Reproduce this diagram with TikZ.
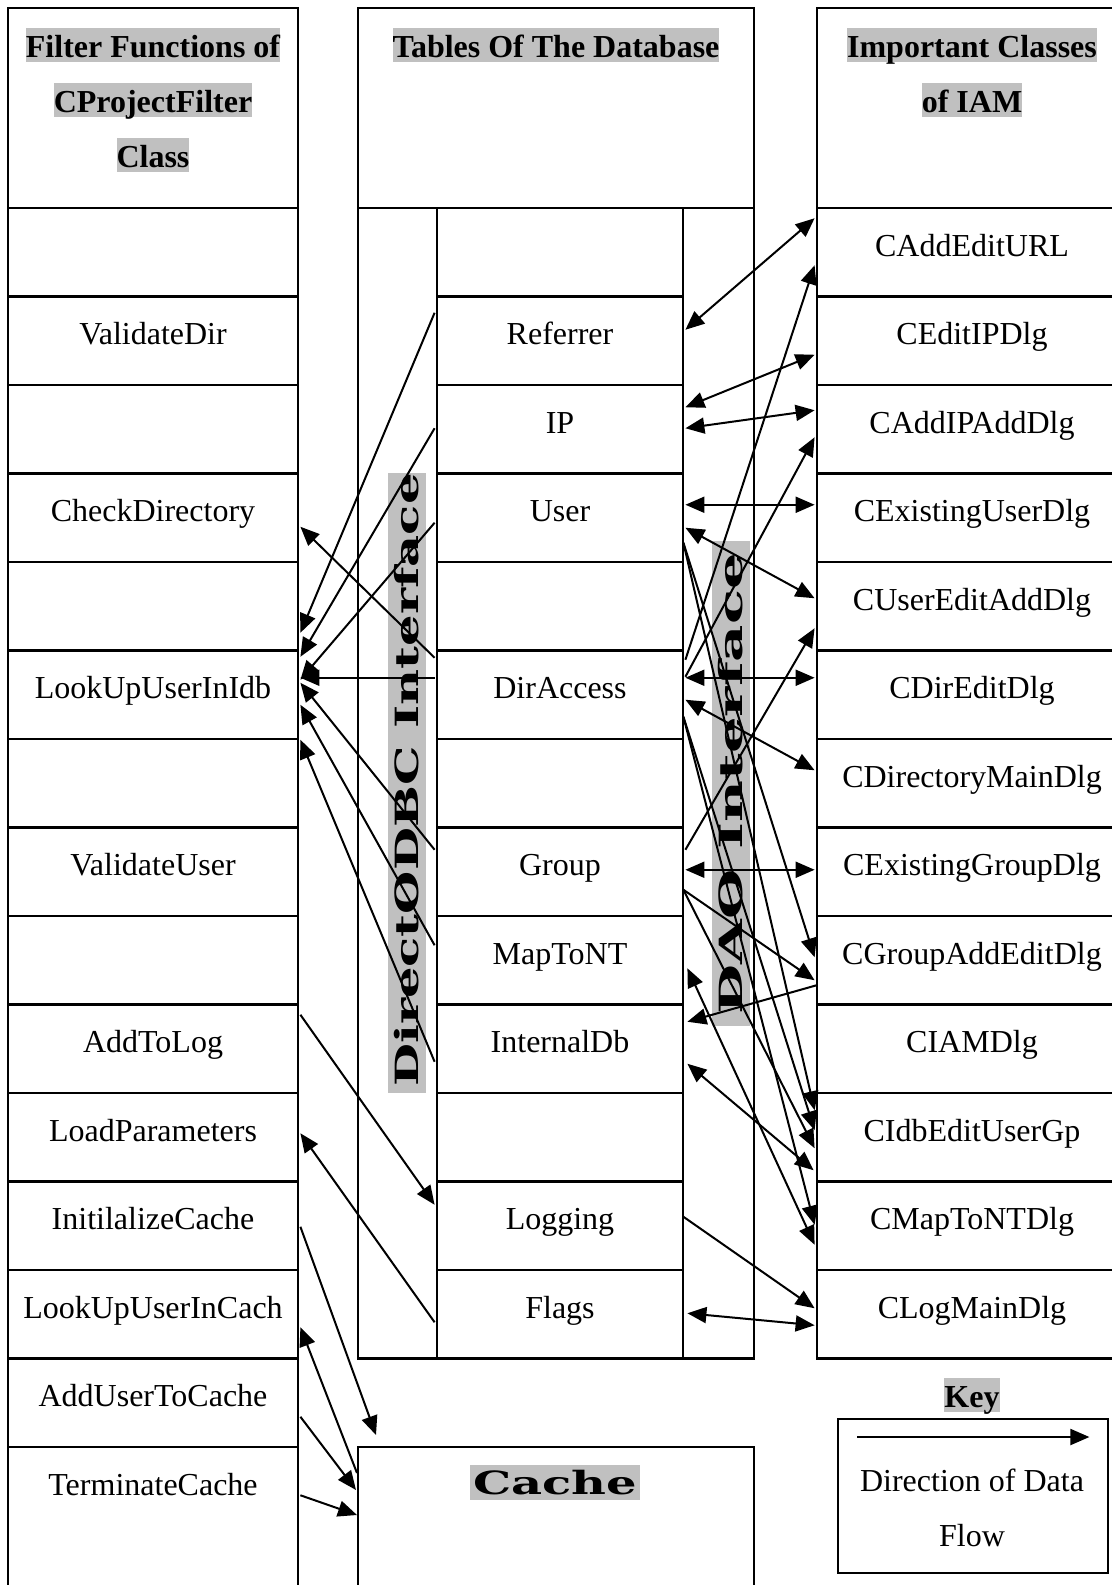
\documentclass[tikz,border=0pt]{standalone}
\usepackage{fontspec}
\setmainfont{Liberation Serif}
\newfontfamily\heavyfont{DejaVu Serif}
\usetikzlibrary{arrows.meta,calc}
\definecolor{hl}{RGB}{192,192,192}

\begin{document}
\begin{tikzpicture}[x=0.5pt,y=-0.5pt,
  frame/.style={line width=1.4pt},
  cellbase/.style={rectangle,inner sep=0pt,minimum height=44.25pt,
    text height=11.9pt,text depth=8.1pt,font=\fontsize{16}{19}\selectfont},
  cellL/.style={cellbase,minimum width=145pt},
  cellM/.style={cellbase,minimum width=123pt},
  cellR/.style={cellbase,minimum width=155pt},
  hdr/.style={fill=hl,inner sep=0pt,text height=14.5pt,text depth=2.5pt,
    anchor=base,font=\bfseries\fontsize{16}{19}\selectfont},
  plain/.style={inner sep=0pt,anchor=base,font=\fontsize{16}{19}\selectfont},
  heavy/.style={inner sep=0pt,font=\heavyfont\bfseries\fontsize{16}{16}\selectfont},
  tip/.tip={Triangle[length=9.5pt,width=8pt]},
  arr/.style={line width=1pt,-tip},
  darr/.style={line width=1pt,tip-tip}]

\useasboundingbox (0,0) rectangle (1112,1585);
\clip (0,0) rectangle (1112,1585);
\fill[white] (0,0) rectangle (1112,1585);

% ---- column frames and rows ----
\draw[frame] (8,8) rectangle (298,1650);
\foreach \k in {0,...,14} \draw[frame] (8,{208+88.5*\k}) -- (298,{208+88.5*\k});

\draw[frame] (358,8) rectangle (754,1358.5);
\draw[frame] (358,208) -- (754,208);
\draw[frame] (437,208) -- (437,1358.5);
\draw[frame] (683,208) -- (683,1358.5);
\foreach \k in {1,...,12} \draw[frame] (437,{208+88.5*\k}) -- (683,{208+88.5*\k});

\draw[frame] (817,8) rectangle (1127,1358.5);
\foreach \k in {0,...,12} \draw[frame] (817,{208+88.5*\k}) -- (1127,{208+88.5*\k});

% cache box
\node[inner sep=0pt,minimum width=198pt,minimum height=100pt,anchor=north west] (cache) at (358,1447) {};
\draw[frame] (358,1650) -- (358,1447) -- (754,1447) -- (754,1650);

% ---- headings ----
\node[hdr] (h1a) at (153,57) {Filter Functions of};
\node[hdr] (h1b) at (153,112) {CProjectFilter};
\node[hdr] (h1c) at (153,167) {Class};
\node[hdr] (h2a) at (556,57) {Tables Of The Database};
\node[hdr] (h3a) at (972,57) {Important Classes};
\node[hdr] (h3b) at (972,112) {of IAM};

% ---- cells ----
\foreach \k/\nm/\txt in {1/vdir/ValidateDir,3/chkdir/CheckDirectory,5/lkidb/LookUpUserInIdb,
    7/vuser/ValidateUser,9/addlog/AddToLog,10/loadpar/LoadParameters,11/initc/InitilalizeCache,
    12/lkcach/LookUpUserInCach,13/addcache/AddUserToCache,14/termc/TerminateCache}
  \node[cellL] (\nm) at (153,{252.25+88.5*\k}) {\txt};

\foreach \k/\nm/\txt in {1/refr/Referrer,2/ip/IP,3/usr/User,5/dira/DirAccess,7/grp/Group,
    8/mapnt/MapToNT,9/intdb/InternalDb,11/logg/Logging,12/flags/Flags}
  \node[cellM] (\nm) at (560,{252.25+88.5*\k}) {\txt};

\foreach \k/\nm/\txt in {0/caeu/CAddEditURL,1/ceip/CEditIPDlg,2/caip/CAddIPAddDlg,
    3/ceud/CExistingUserDlg,4/cuea/CUserEditAddDlg,5/cded/CDirEditDlg,6/cdmd/CDirectoryMainDlg,
    7/cegd/CExistingGroupDlg,8/cgae/CGroupAddEditDlg,9/ciam/CIAMDlg,10/cieu/CIdbEditUserGp,
    11/cmap/CMapToNTDlg,12/clog/CLogMainDlg}
  \node[cellR] (\nm) at (972,{252.25+88.5*\k}) {\txt};

% ---- interface strips ----
\fill[hl] (388,473) rectangle (426,1093);
\node[heavy,rotate=90] (odbc) at (407,780) {\scalebox{1.55}[1]{DirectODBC Interface}};
\fill[hl] (712,541) rectangle (750,1026);
\node[heavy,rotate=90] (dao) at (731,783.5) {\scalebox{1.8}[1]{DAO Interface}};
\fill[hl] (470,1465) rectangle (640,1500);
\node[heavy] (cachelbl) at (555,1482.5) {\scalebox{1.5}[1]{Cache}};

% ---- key ----
\node[hdr] (keyttl) at (972,1407) {Key};
\node[draw,line width=1.2pt,inner sep=0pt,minimum width=135pt,minimum height=77pt,anchor=north west] (keybox) at (837,1418) {};
\node[plain] (keyt1) at (972,1491) {Direction of Data};
\node[plain] (keyt2) at (972,1546) {Flow};
\draw[arr] ($(keybox.north west)+(20,19)$) -- ($(keybox.north east)+(-20,19)$);

% ---- ODBC side data flow ----
\draw[arr] ($(refr.west)+(-2,-28)$) -- ($(lkidb.east)+(2,-62)$);
\draw[arr] ($(ip.west)+(-2,-1)$) -- ($(lkidb.east)+(2,-38)$);
\draw[arr] ($(usr.west)+(-2,5)$) -- ($(lkidb.east)+(2,-15)$);
\draw[arr] ($(dira.west)+(-2,-37)$) -- ($(chkdir.east)+(2,9)$);
\draw[arr] ($(dira.west)+(-2,-17)$) -- ($(lkidb.east)+(2,-17)$);
\draw[arr] ($(grp.west)+(-2,-22)$) -- ($(lkidb.east)+(2,-12)$);
\draw[arr] ($(mapnt.west)+(-2,-15)$) -- ($(lkidb.east)+(2,10)$);
\draw[arr] ($(intdb.west)+(-2,13)$) -- ($(lkidb.east)+(2,45)$);
\draw[arr] ($(addlog.east)+(2,-34)$) -- ($(logg.west)+(-2,-21)$);
\draw[arr] ($(flags.west)+(-2,8)$) -- ($(loadpar.east)+(2,-4)$);
\draw[arr] ($(initc.east)+(2,1)$) -- ($(cache.north west)+(18,-12)$);
\draw[arr] ($(cache.north west)+(-1,26)$) -- ($(lkcach.east)+(2,13)$);
\draw[arr] ($(addcache.east)+(2,14)$) -- ($(cache.north west)+(-2,43)$);
\draw[arr] ($(termc.east)+(2,4)$) -- ($(cache.north west)+(-1,68)$);

% ---- DAO side data flow ----
\draw[darr] ($(refr.east)+(2,-11)$) -- ($(caeu.west)+(-2,-34)$);
\draw[arr] ($(dira.east)+(2,-35)$) -- ($(caeu.west)+(-2,13)$);
\draw[darr] ($(ip.east)+(2,-22)$) -- ($(ceip.west)+(-2,14)$);
\draw[darr] ($(ip.east)+(2,-1)$) -- ($(caip.west)+(-2,-19)$);
\draw[arr] ($(dira.east)+(2,-18)$) -- ($(caip.west)+(-2,8)$);
\draw[darr] ($(usr.east)+(2,-13)$) -- ($(ceud.west)+(-2,-13)$);
\draw[darr] ($(usr.east)+(2,10)$) -- ($(cuea.west)+(-2,-8)$);
\draw[arr] ($(grp.east)+(2,-22)$) -- ($(cuea.west)+(-2,22)$);
\draw[darr] ($(dira.east)+(2,-17)$) -- ($(cded.west)+(-2,-17)$);
\draw[darr] ($(dira.east)+(2,5)$) -- ($(cdmd.west)+(-2,-13)$);
\draw[darr] ($(grp.east)+(2,-2)$) -- ($(cegd.west)+(-2,-2)$);
\draw[arr] ($(usr.east)+(0,25)$) -- ($(cgae.west)+(-2,-3)$);
\draw[arr] ($(grp.east)+(0,18)$) -- ($(cgae.west)+(-2,20)$);
\draw[arr] ($(cgae.west)+(0,25)$) -- ($(intdb.east)+(4,-27)$);
\draw[darr] ($(mapnt.east)+(4,8)$) -- ($(cmap.west)+(-2,19)$);
\draw[darr] ($(intdb.east)+(4,15)$) -- ($(cieu.west)+(-3,33)$);
\draw[arr] ($(usr.east)+(0,25)$) -- ($(cieu.west)+(-2,-27)$);
\draw[arr] ($(dira.east)+(0,22)$) -- ($(cieu.west)+(-2,-7)$);
\draw[arr] ($(grp.east)+(0,18)$) -- ($(cieu.west)+(-2,11)$);
\draw[arr] ($(dira.east)+(0,22)$) -- ($(cmap.west)+(-2,-1)$);
\draw[arr] ($(logg.east)+(0,-9)$) -- ($(clog.west)+(-2,-6)$);
\draw[darr] ($(flags.east)+(4,-1)$) -- ($(clog.west)+(-2,11)$);

\end{tikzpicture}
\end{document}
